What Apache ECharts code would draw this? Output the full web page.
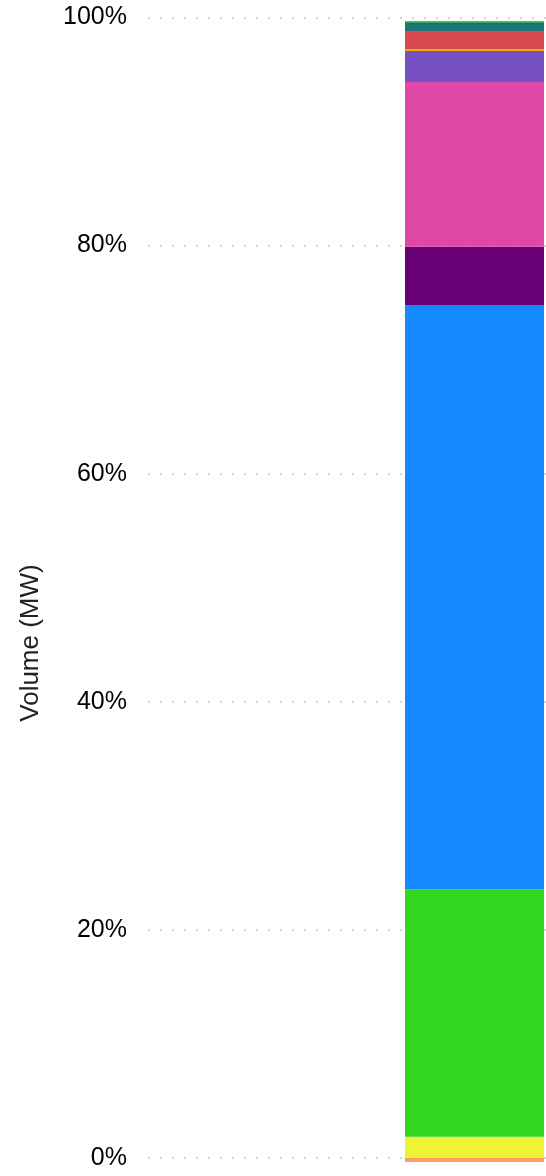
<!DOCTYPE html>
<html>
<head>
<meta charset="utf-8">
<script src="https://cdn.jsdelivr.net/npm/echarts@6/dist/echarts.min.js"></script>
<style>
html,body{margin:0;padding:0;background:#fff;}
#chart{width:546px;height:1176px;}
</style>
</head>
<body>
<div id="chart"></div>
<script>
// Data (percent share of volume)
const categories = ['Total'];
const seriesNames = ['Storage', 'Solar', 'Wind', 'Hydro', 'Nuclear', 'Gas', 'Coal', 'Oil', 'Biomass', 'Imports', 'Geothermal', 'Other'];
const seriesValues = [-0.35, 1.87, 21.67, 51.25, 5.11, 14.44, 2.72, 0.18, 1.52, 0.76, 0.09, 0.09];
const seriesColors = ['#F7A15B', '#EEF335', '#33D61E', '#148AFF', '#690076', '#E047A6', '#7750C1', '#EAB308', '#D9474F', '#1D7474', '#2BAA4E', '#1CC6D8'];
const tickValues = [0, 20, 40, 60, 80, 100];
const axisName = 'Volume (MW)';

const chart = echarts.init(document.getElementById('chart'), null, {renderer: 'canvas'});
const font = 'Liberation Sans, Arial, sans-serif';

const series = seriesNames.map((n, i) => ({
  name: n,
  type: 'bar',
  stack: 'total',
  xAxisIndex: 1,
  yAxisIndex: 1,
  barWidth: '100%',
  clip: false,
  itemStyle: {color: seriesColors[i]},
  emphasis: {disabled: true},
  data: [seriesValues[i]]
}));

chart.setOption({
  animation: false,
  grid: [
    {left: 148, right: 0, top: 17.5, bottom: 18},
    {left: 405, right: 2, top: 17.5, bottom: 18}
  ],
  xAxis: [
    {type: 'category', gridIndex: 0, data: categories, show: false},
    {type: 'category', gridIndex: 1, data: categories, show: false}
  ],
  yAxis: [
    {
      type: 'value', gridIndex: 0, min: tickValues[0], max: tickValues[tickValues.length - 1], interval: 20,
      axisLine: {show: false}, axisTick: {show: false},
      axisLabel: {formatter: '{value}%', fontSize: 25, fontFamily: font, color: '#000', margin: 21},
      splitLine: {lineStyle: {color: '#d4d4d4', width: 2, type: [2, 10]}}
    },
    {
      type: 'value', gridIndex: 1, min: 0, max: 100, show: false, splitLine: {show: false}
    }
  ],
  graphic: [{
    type: 'text',
    x: 31, y: 643,
    rotation: Math.PI / 2,
    style: {text: axisName, fontSize: 26, fontFamily: font, fill: '#222', align: 'center', verticalAlign: 'middle'}
  }],
  series: series
});
</script>
</body>
</html>
